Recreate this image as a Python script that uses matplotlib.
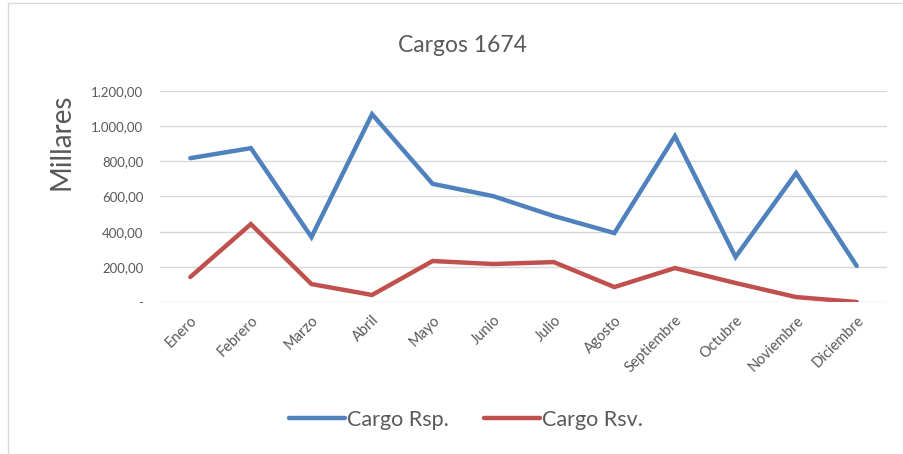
import numpy as np
import matplotlib.pyplot as plt
from matplotlib.patches import Rectangle

plt.rcParams['font.family'] = ['Lato', 'DejaVu Sans']

meses = ['Enero', 'Febrero', 'Marzo', 'Abril', 'Mayo', 'Junio', 'Julio',
         'Agosto', 'Septiembre', 'Octubre', 'Noviembre', 'Diciembre']
cargo_rsp = [818, 875, 369, 1068, 672, 602, 489, 392, 943, 256, 733, 205]
cargo_rsv = [142, 443, 102, 40, 233, 216, 227, 85, 193, 108, 28, 0]
yticks = [0, 200, 400, 600, 800, 1000, 1200]


def fmt(v):
    if v == 0:
        return '-'
    s = f'{v:,.2f}'
    return s.replace(',', 'X').replace('.', ',').replace('X', '.')


fig = plt.figure(figsize=(9.04, 4.54), dpi=100)
fig.patches.append(Rectangle((8 / 904, -0.1), 1.2, 1 - 3 / 454 + 0.1,
                             transform=fig.transFigure, fill=False,
                             edgecolor='#d9d9d9', linewidth=1))

ax = fig.add_axes([160 / 904, 1 - 302 / 454, 727 / 904, 211 / 454])
x = np.arange(len(meses))
ax.plot(x, cargo_rsp, color='#4f81bd', linewidth=3.2, solid_capstyle='round',
        solid_joinstyle='miter', label='Cargo Rsp.')
ax.plot(x, cargo_rsv, color='#c0504d', linewidth=3.2, solid_capstyle='round',
        solid_joinstyle='miter', label='Cargo Rsv.')

ax.set_xlim(-0.5, 11.5)
ax.set_ylim(0, 1200)
ax.set_yticks(yticks)
ax.set_yticklabels([fmt(v) for v in yticks], color='#595959', fontsize=9.5)
ax.yaxis.grid(True, color='#d9d9d9', linewidth=1)
ax.set_axisbelow(True)
ax.set_xticks(x)
ax.set_xticklabels(meses, rotation=45, ha='right', rotation_mode='anchor',
                   color='#595959', fontsize=10.5)
ax.tick_params(axis='both', length=0)
ax.tick_params(axis='y', pad=12)
ax.tick_params(axis='x', pad=8)
for s in ax.spines.values():
    s.set_visible(False)

fig.text(62 / 904, 1 - 142 / 454, 'Millares', rotation=90, ha='center',
         va='center', fontsize=20, color='#595959')
fig.text(462 / 904, 1 - 45 / 454, 'Cargos 1674', ha='center', va='center',
         fontsize=16.5, color='#595959')

leg = fig.legend(loc='center', bbox_to_anchor=(466 / 904, 1 - 420 / 454), ncol=2,
                 frameon=False, fontsize=15.5, handlelength=2.6,
                 handletextpad=0.1, columnspacing=1.6)
for t in leg.get_texts():
    t.set_color('#595959')

fig.savefig('out.png', dpi=100)
